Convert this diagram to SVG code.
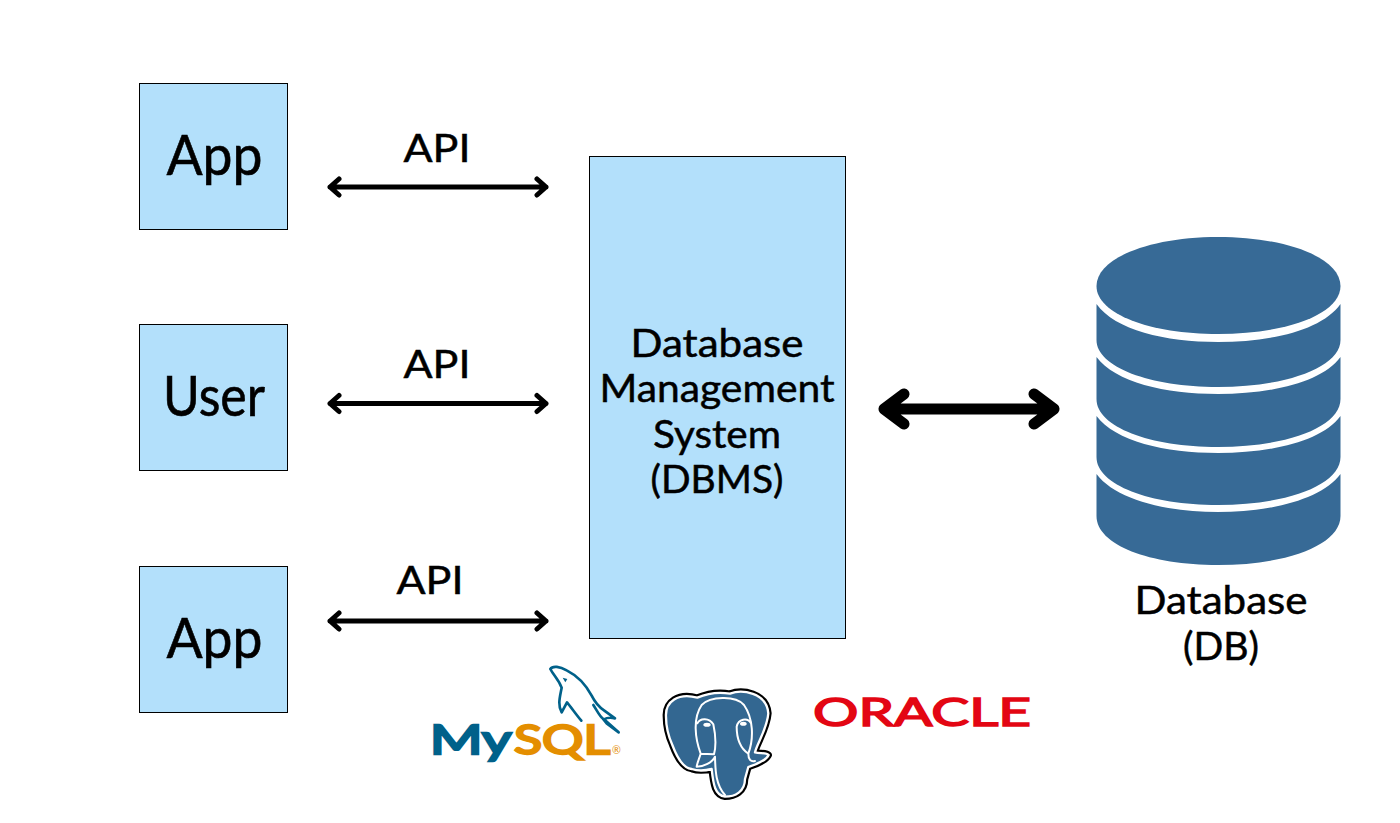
<svg xmlns="http://www.w3.org/2000/svg" width="1400" height="823" viewBox="0 0 1400 823">
<style>
text{font-family:"Lato","Noto Sans",sans-serif;fill:#000;text-anchor:middle}
.box{fill:#b3e0fb;stroke:#000;stroke-width:1}
.big{font-size:56px;stroke:#000;stroke-width:.6}
.mid{font-size:39px;stroke:#000;stroke-width:.5}
.thin{fill:none;stroke:#000;stroke-width:5;stroke-linecap:round;stroke-linejoin:round}
.thick{fill:none;stroke:#000;stroke-width:11;stroke-linecap:round;stroke-linejoin:round}
.db{fill:#376a96}
</style>
<rect width="1400" height="823" fill="#fff"/>
<g id="connectors">
<g id="api1"><path class="thin" d="M330 187H546M339 179L330 187L339 195M537 179L546 187L537 195"/></g>
<g id="api2"><path class="thin" d="M330 403.500H546M339 395.500L330 403.500L339 411.500M537 395.500L546 403.500L537 411.500"/></g>
<g id="api3"><path class="thin" d="M330 621H546M339 613L330 621L339 629M537 613L546 621L537 629"/></g>
<g id="dbms-db"><path class="thick" d="M884 409H1054M904 394L884 409L904 424M1034 394L1054 409L1034 424"/></g>
</g>
<g id="labels">
<text class="mid" x="437" y="162" textLength="67" lengthAdjust="spacingAndGlyphs">API</text>
<text class="mid" x="437" y="378" textLength="67" lengthAdjust="spacingAndGlyphs">API</text>
<text class="mid" x="430" y="594" textLength="67" lengthAdjust="spacingAndGlyphs">API</text>
</g>
<g id="app-top"><rect class="box" x="139.500" y="83.500" width="148" height="146"/><text class="big" x="214.500" y="175" textLength="96" lengthAdjust="spacingAndGlyphs">App</text></g>
<g id="user"><rect class="box" x="139.500" y="324.500" width="148" height="146"/><text class="big" x="214" y="415.500" textLength="102" lengthAdjust="spacingAndGlyphs">User</text></g>
<g id="app-bottom"><rect class="box" x="139.500" y="566.500" width="148" height="146"/><text class="big" x="214.500" y="658" textLength="96" lengthAdjust="spacingAndGlyphs">App</text></g>
<g id="dbms"><rect class="box" x="589.500" y="156.500" width="256" height="482"/>
<text class="mid" x="717" y="357" textLength="173" lengthAdjust="spacingAndGlyphs">Database</text>
<text class="mid" x="717" y="402" textLength="235" lengthAdjust="spacingAndGlyphs">Management</text>
<text class="mid" x="717" y="448" textLength="128" lengthAdjust="spacingAndGlyphs">System</text>
<text class="mid" x="717" y="493" textLength="133" lengthAdjust="spacingAndGlyphs">(DBMS)</text></g>
<g id="database">
<path class="db" d="M1096.500 286C1096.500 258 1150 237 1218 237C1287 237 1340.500 258 1340.500 286C1340.500 314 1287 334 1218 334C1150 334 1096.500 314 1096.500 286Z"/>
<path class="db" d="M1096.500 304C1115 330 1165 342 1218 342C1272 342 1322 330 1340.500 304V340C1340.500 367 1287 387 1218 387C1150 387 1096.500 367 1096.500 340Z"/>
<path class="db" d="M1096.500 357C1115 382 1165 394 1218 394C1272 394 1322 382 1340.500 357V399C1340.500 427 1287 447 1218 447C1150 447 1096.500 427 1096.500 399Z"/>
<path class="db" d="M1096.500 416C1115 441 1165 453 1218 453C1272 453 1322 441 1340.500 416V457C1340.500 485 1287 505 1218 505C1150 505 1096.500 485 1096.500 457Z"/>
<path class="db" d="M1096.500 474C1115 499 1165 512 1218 512C1272 512 1322 499 1340.500 474V516C1340.500 545 1287 565 1218 565C1150 565 1096.500 545 1096.500 516Z"/>
<text class="mid" x="1221" y="614" textLength="173" lengthAdjust="spacingAndGlyphs">Database</text>
<text class="mid" x="1221" y="660" textLength="76" lengthAdjust="spacingAndGlyphs">(DB)</text>
</g>
<g id="mysql" transform="translate(420,655) scale(.33333)">
<path fill="none" stroke="#00618a" stroke-width="8" stroke-linejoin="round" stroke-linecap="round" d="M391 42C398 31 420 35 440 46C472 62 497 88 515 122C525 142 535 155 552 166L585 190C572 187 560 188 552 193L596 232L560 205L548 190C540 186 530 165 520 150M391 42C400 60 415 72 425 98C420 125 412 150 425 172L441 142C452 155 468 178 484 197"/>
<path fill="#00618a" d="M428 68L442 72L436 82Z"/>
<text x="152" y="296" style="font-size:120px;font-weight:400;fill:#00618a;stroke:#00618a;stroke-width:7;font-family:'Lato',sans-serif" textLength="245" lengthAdjust="spacingAndGlyphs">My</text>
<text x="426" y="296" style="font-size:120px;font-weight:400;fill:#e48e00;stroke:#e48e00;stroke-width:7;font-family:'Lato',sans-serif" textLength="288" lengthAdjust="spacingAndGlyphs">SQL</text>
<text x="589" y="296" style="font-size:32px;fill:#e48e00;font-family:'Lato',sans-serif">®</text>
</g>
<g id="postgresql" transform="translate(420,655) scale(.33333)">
<path fill="#336791" stroke="#000" stroke-width="20" stroke-linejoin="round" d="M738 185C735 140 775 112 832 128C862 115 895 110 930 116C965 102 1040 112 1045 175C1042 220 1010 268 1005 292C1020 296 1040 292 1046 300C1038 320 1000 330 985 336L975 372C975 410 945 425 915 425C885 420 880 390 875 342C860 346 838 350 815 342C790 340 772 310 757 270C746 245 738 215 738 185Z"/>
<path fill="#336791" stroke="#fff" stroke-width="7" stroke-linejoin="round" d="M738 185C735 140 775 112 832 128C862 115 895 110 930 116C965 102 1040 112 1045 175C1042 220 1010 268 1005 292C1020 296 1040 292 1046 300C1038 320 1000 330 985 336L975 372C975 410 945 425 915 425C885 420 880 390 875 342C860 346 838 350 815 342C790 340 772 310 757 270C746 245 738 215 738 185Z"/>
<path fill="none" stroke="#fff" stroke-width="6" stroke-linejoin="round" stroke-linecap="round" d="M842 296C825 250 818 190 845 150C870 125 945 120 972 150C1000 190 1002 250 985 296M832 205C840 188 868 188 880 208C888 245 888 275 882 298L842 296M950 215C955 192 982 186 993 205M950 215C950 250 962 280 985 296M830 335C850 335 878 322 885 305C886 350 888 390 915 420M1005 318C992 322 985 312 985 296M830 335C832 322 838 310 842 296"/>
<ellipse cx="861" cy="209" rx="11" ry="6" fill="#fff"/>
<ellipse cx="970" cy="206" rx="10" ry="6" fill="#fff"/>
</g>
<g id="oracle">
<text x="922" y="726" style="font-size:38px;font-weight:400;fill:#e30613;stroke:#e30613;stroke-width:1.5;font-family:'Lato',sans-serif" textLength="218" lengthAdjust="spacingAndGlyphs">ORACLE</text>
</g>
</svg>
